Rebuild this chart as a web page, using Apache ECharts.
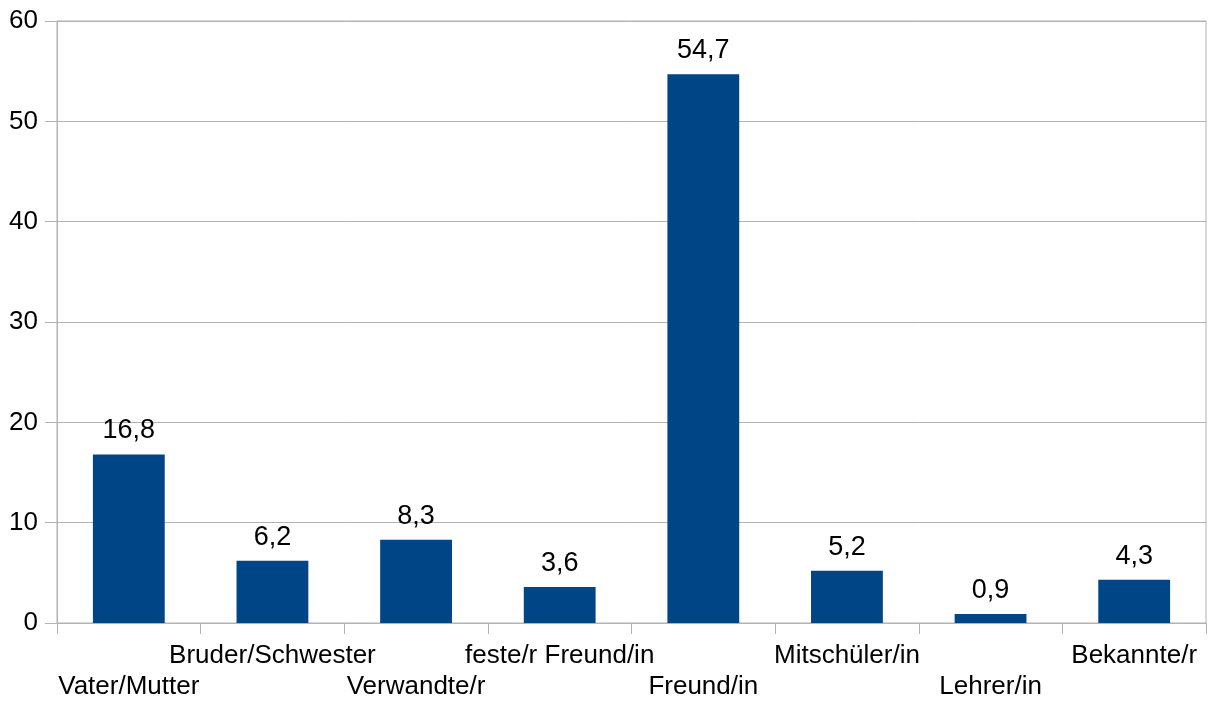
<!DOCTYPE html>
<html>
<head>
<meta charset="utf-8">
<script src="https://cdn.jsdelivr.net/npm/echarts@6/dist/echarts.min.js"></script>
<style>
  html, body { margin: 0; padding: 0; background: #ffffff; }
  #chart { width: 1209px; height: 702px; }
</style>
</head>
<body>
<div id="chart"></div>
<script>
// Bezugspersonen (Angaben in Prozent)
const categories = ['Vater/Mutter', 'Bruder/Schwester', 'Verwandte/r', 'feste/r Freund/in', 'Freund/in', 'Mitschüler/in', 'Lehrer/in', 'Bekannte/r'];
const values = [16.8, 6.2, 8.3, 3.6, 54.7, 5.2, 0.9, 4.3];
const yTicks = [0, 10, 20, 30, 40, 50, 60];

const FONT = '"Liberation Sans", Arial, sans-serif';
const GRID_COLOR = '#b3b3b3';

const chart = echarts.init(document.getElementById('chart'), null, { renderer: 'canvas' });

chart.setOption({
  animation: false,
  backgroundColor: '#ffffff',
  textStyle: { fontFamily: FONT, color: '#000' },
  grid: {
    left: 57, right: 3, top: 21, bottom: 78.5,
    show: true, borderColor: GRID_COLOR, borderWidth: 1,
    containLabel: false
  },
  xAxis: {
    type: 'category',
    data: categories,
    boundaryGap: true,
    axisLine: { show: true, lineStyle: { color: GRID_COLOR, width: 1 } },
    axisTick: { show: true, length: 11, alignWithLabel: false, interval: 0, lineStyle: { color: GRID_COLOR } },
    axisLabel: {
      interval: 0,
      margin: 17,
      fontSize: 26,
      lineHeight: 31,
      color: '#000',
      fontFamily: FONT,
      // alternate labels between two rows
      formatter: function (name, idx) {
        return idx % 2 === 0 ? '\n' + name : name;
      }
    }
  },
  yAxis: {
    type: 'value',
    min: yTicks[0],
    max: yTicks[yTicks.length - 1],
    interval: 10,
    axisLine: { show: true, lineStyle: { color: GRID_COLOR, width: 1 } },
    axisTick: { show: true, length: 12, lineStyle: { color: GRID_COLOR } },
    axisLabel: { margin: 19, fontSize: 26, color: '#000', fontFamily: FONT },
    splitLine: { show: true, lineStyle: { color: GRID_COLOR, width: 1 } }
  },
  series: [{
    type: 'bar',
    data: values,
    barWidth: '50%',
    itemStyle: { color: '#004586' },
    label: {
      show: true,
      position: 'top',
      distance: 10,
      fontSize: 27,
      lineHeight: 27,
      color: '#000',
      fontFamily: FONT,
      formatter: function (p) { return p.value.toFixed(1).replace('.', ','); }
    }
  }]
});
</script>
</body>
</html>
